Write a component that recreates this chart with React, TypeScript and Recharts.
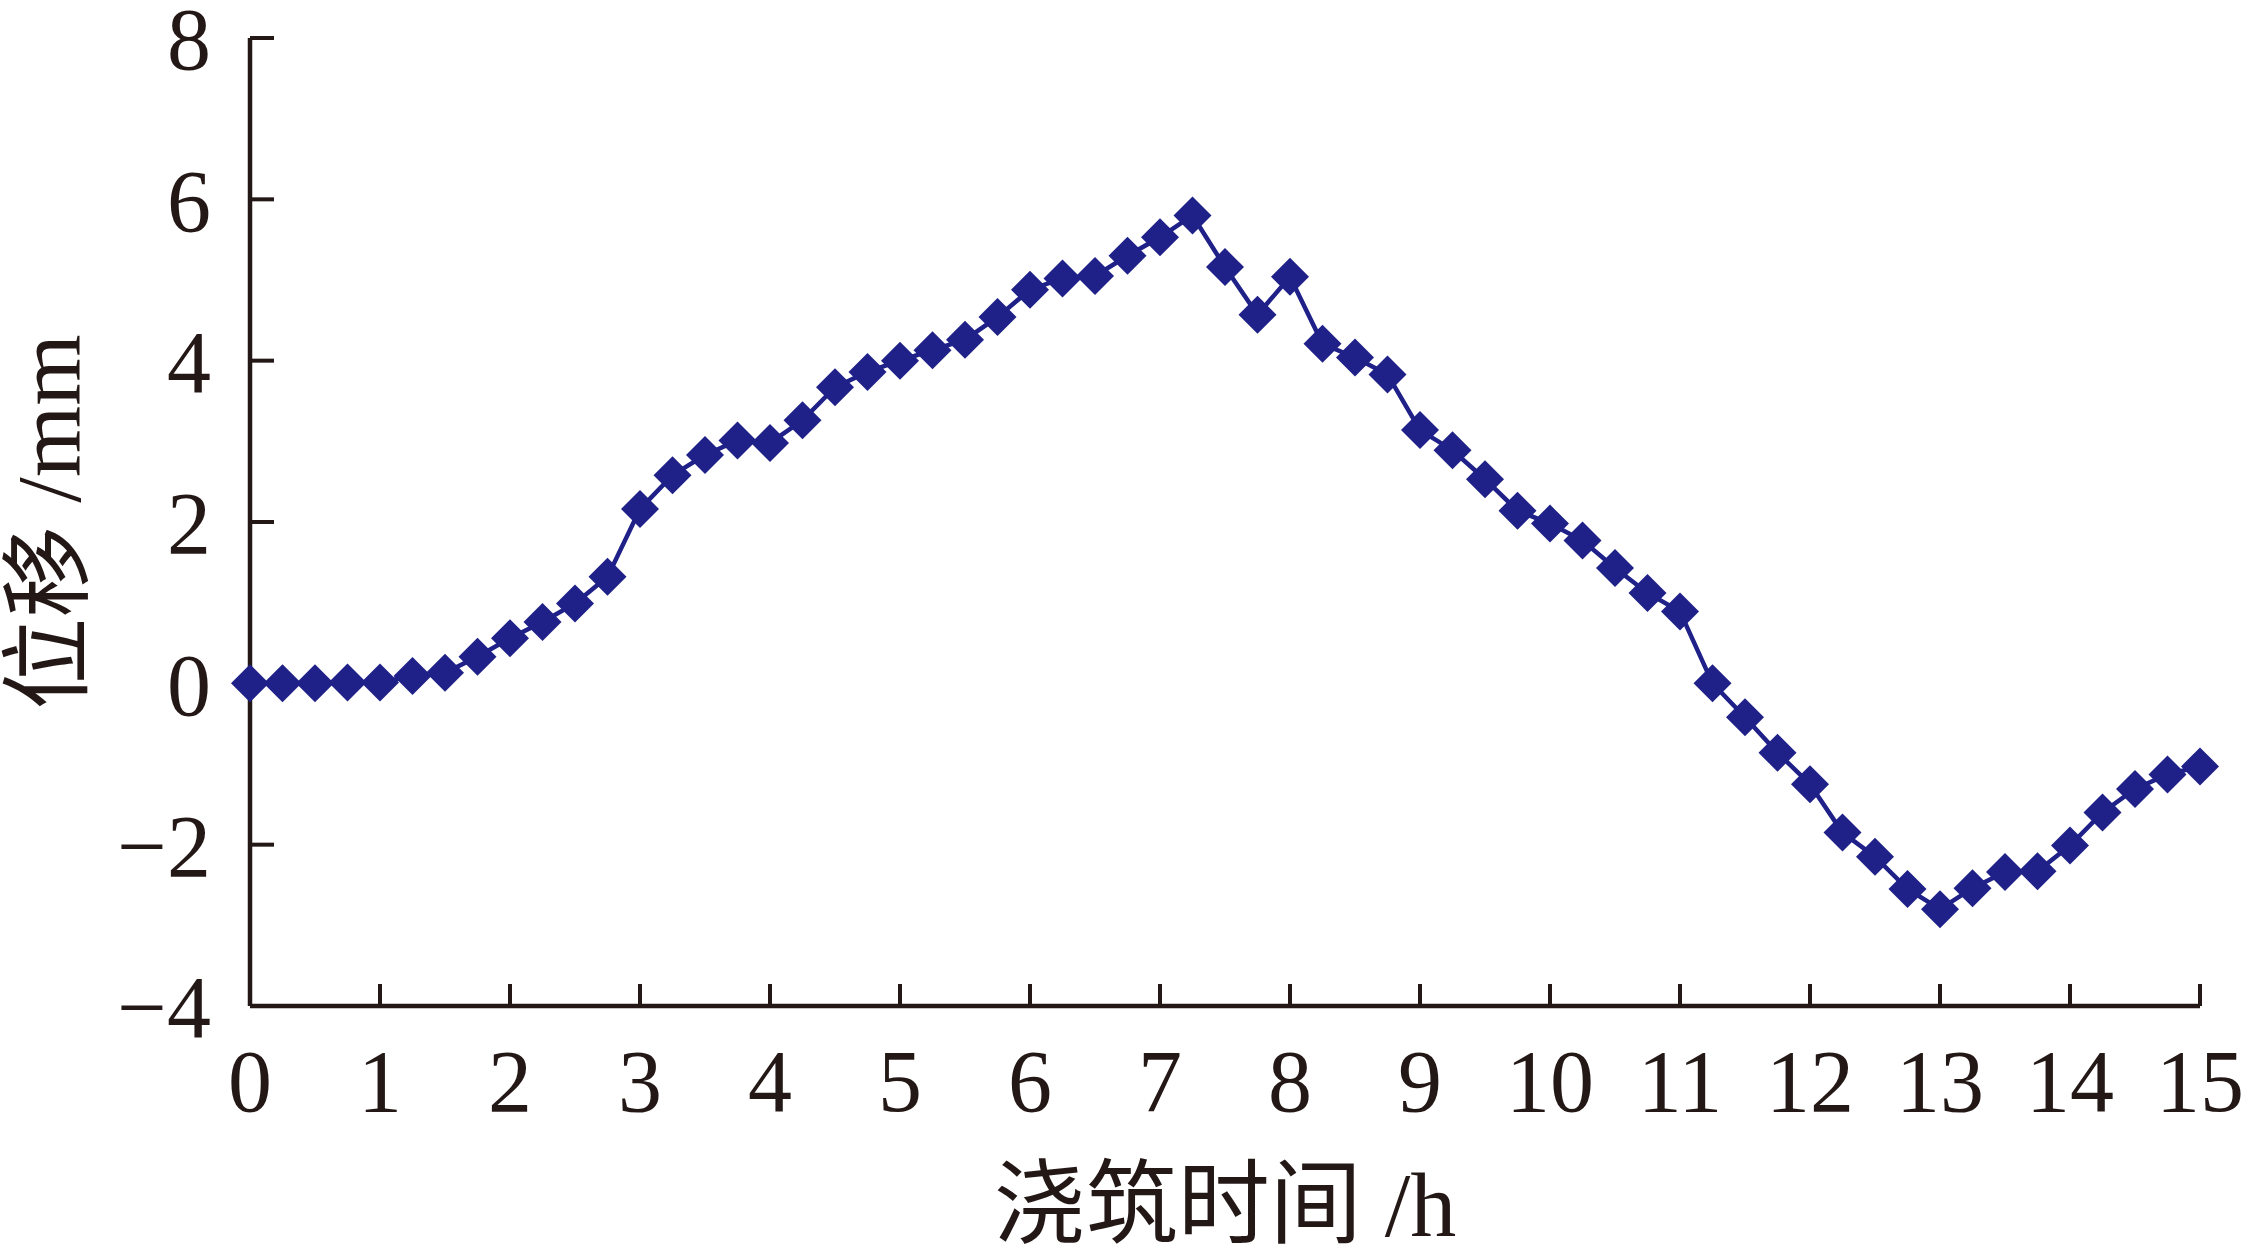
import React from 'react';
import { LineChart, Line, XAxis, YAxis, Label } from 'recharts';

// pouring time (h)
const times = [
    0, 0.25, 0.5, 0.75, 1, 1.25, 1.5, 1.75, 2, 2.25, 2.5, 2.75, 3, 3.25, 3.5, 3.75,
    4, 4.25, 4.5, 4.75, 5, 5.25, 5.5, 5.75, 6, 6.25, 6.5, 6.75, 7, 7.25, 7.5, 7.75,
    8, 8.25, 8.5, 8.75, 9, 9.25, 9.5, 9.75, 10, 10.25, 10.5, 10.75, 11, 11.25, 11.5, 11.75,
    12, 12.25, 12.5, 12.75, 13, 13.25, 13.5, 13.75, 14, 14.25, 14.5, 14.75, 15,
];

// displacement (mm)
const displacement = [
    0, 0, 0, 0.01, 0.01, 0.09, 0.13, 0.33, 0.56, 0.76, 0.99, 1.32, 2.16, 2.58, 2.83, 3.01,
    2.98, 3.26, 3.67, 3.86, 4.0, 4.13, 4.26, 4.54, 4.88, 5.02, 5.05, 5.3, 5.53, 5.8, 5.16, 4.57,
    5.04, 4.21, 4.04, 3.83, 3.14, 2.89, 2.53, 2.14, 1.98, 1.77, 1.43, 1.12, 0.89, 0.0, -0.42, -0.86,
    -1.25, -1.85, -2.15, -2.55, -2.8, -2.54, -2.34, -2.33, -2.01, -1.6, -1.31, -1.13, -1.03,
];

const xTicks = [0, 1, 2, 3, 4, 5, 6, 7, 8, 9, 10, 11, 12, 13, 14, 15];
const yTicks = [-4, -2, 0, 2, 4, 6, 8];

const data = times.map((t, i) => ({ t, d: displacement[i] }));

const INK = '#231815';
const SERIES = '#1f2188';
const FONT = "'Liberation Serif', 'Noto Sans CJK SC', serif";

const fmt = (v: number) => (v < 0 ? `\u2212${Math.abs(v)}` : `${v}`);

const Diamond = (props: any) => {
    const { cx, cy, index } = props;
    if (cx == null || cy == null) return null;
    const r = 19;
    return (
        <path
            key={`dot-${index}`}
            d={`M${cx},${cy - r}L${cx + r},${cy}L${cx},${cy + r}L${cx - r},${cy}Z`}
            fill={SERIES}
        />
    );
};

export default function App() {
    return (
        <div style={{ position: 'absolute', left: 0, top: 0, background: '#fff' }}>
            <LineChart
                width={2244}
                height={1249}
                data={data}
                margin={{ top: 38, right: 44, left: 0, bottom: 0 }}
            >
                <XAxis
                    dataKey="t"
                    type="number"
                    domain={[0, 15]}
                    ticks={xTicks}
                    interval={0}
                    height={243}
                    tickSize={-22}
                    tickMargin={65}
                    axisLine={{ stroke: INK, strokeWidth: 4.5 }}
                    tickLine={{ stroke: INK, strokeWidth: 4 }}
                    tick={{ fontSize: 88, fill: INK, fontFamily: FONT }}
                >
                    <Label
                        value="浇筑时间 /h"
                        position="center"
                        dy={76}
                        style={{ fontSize: 92, fill: INK, fontFamily: FONT }}
                    />
                </XAxis>
                <YAxis
                    type="number"
                    domain={[-4, 8]}
                    ticks={yTicks}
                    interval={0}
                    width={250}
                    tickSize={-24}
                    tickMargin={63}
                    tickFormatter={fmt}
                    axisLine={{ stroke: INK, strokeWidth: 4.5 }}
                    tickLine={{ stroke: INK, strokeWidth: 4 }}
                    tick={{ fontSize: 88, fill: INK, fontFamily: FONT }}
                >
                    <Label
                        value="位移 /mm"
                        position="center"
                        angle={-90}
                        dx={-78}
                        style={{ fontSize: 92, fill: INK, fontFamily: FONT }}
                    />
                </YAxis>
                <Line
                    type="linear"
                    dataKey="d"
                    stroke={SERIES}
                    strokeWidth={4.5}
                    dot={Diamond}
                    activeDot={false}
                    isAnimationActive={false}
                />
            </LineChart>
        </div>
    );
}
